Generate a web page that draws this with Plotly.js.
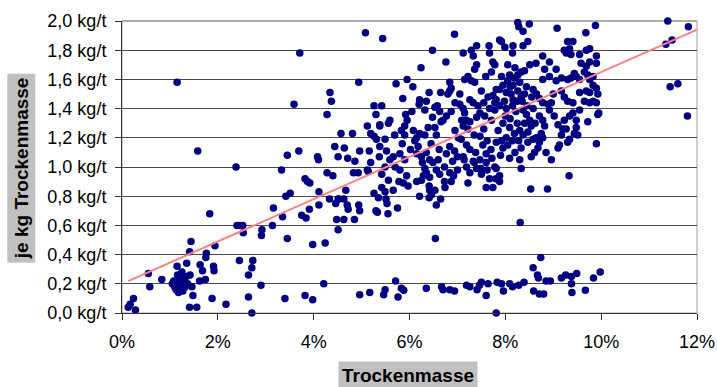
<!DOCTYPE html>
<html><head><meta charset="utf-8">
<script src="https://cdn.plot.ly/plotly-3.0.1.min.js"></script>
<style>body{margin:0;background:#fff}#chart{width:717px;height:387px}</style>
</head><body><div id="chart"></div>
<script>
// Trockenmasse (%) , je kg Trockenmasse (kg/t)
const lowLeft = [[0.13,0.04],[0.17,0.06],[0.24,0.10],[0.28,0.02],[0.55,0.27],[0.58,0.18],[0.83,0.23],
[1.05,0.20],[1.08,0.22],[1.10,0.18],[1.12,0.21],[1.13,0.16],[1.15,0.19],[1.17,0.23],[1.18,0.14],[1.20,0.20],
[1.22,0.17],[1.24,0.22],[1.25,0.19],[1.27,0.15],[1.28,0.24],[1.30,0.21],[1.32,0.18],[1.34,0.25],[1.37,0.20],
[1.16,0.26],[1.22,0.25],[1.15,0.32],[1.25,0.28],[1.35,0.34],[1.44,0.49],[1.41,0.42],[1.42,0.26],[1.46,0.18],
[1.48,0.12],[1.41,0.04],[1.56,0.04],[1.63,0.33],[1.68,0.29],[1.62,0.22],[1.76,0.41],[1.74,0.23],[1.83,0.68],
[1.88,0.10],[1.91,0.32],[1.92,0.29],[1.94,0.46],[2.17,0.06],[2.40,0.60],[2.45,0.36],[1.75,0.38],[2.38,1.00],
[1.58,1.11],[1.15,1.58],[2.46,0.60],[2.52,0.60],[2.53,0.55],[2.73,0.36],[2.71,0.31],[2.64,0.26],[2.64,0.11],
[2.71,0.00],[2.90,0.19],[2.92,0.57],[2.91,0.53],[3.16,0.72],[3.14,0.60],[3.35,0.66],[3.45,0.51],[3.40,0.10],
[3.82,0.12],[3.33,0.98],[3.45,1.08],[3.69,1.11],[3.42,0.80],[3.51,0.82],[3.82,0.92],[3.87,0.90],[3.92,0.89],
[3.75,0.67],[3.84,0.65],[3.91,0.71],[3.71,1.78],[3.59,1.43]];
const midLeft = [[4.34,1.51],[4.37,1.45],[4.28,1.36],[5.26,1.42],[5.42,1.42],[5.30,1.36],[5.38,1.29],[5.12,1.28],
[5.19,1.23],[5.26,1.21],[5.31,1.19],[4.57,1.23],[4.81,1.23],[4.44,1.14],[4.64,1.13],[4.96,1.11],[5.16,1.11],
[4.08,1.07],[4.10,1.05],[4.51,1.07],[4.71,1.06],[4.86,1.04],[5.37,1.07],[5.19,1.03],[4.28,0.96],[4.40,0.94],
[4.83,0.96],[4.93,0.96],[5.12,0.98],[5.14,0.97],[4.11,0.83],[4.33,0.78],[4.67,0.84],[4.51,0.78],[4.63,0.78],
[4.46,0.75],[4.70,0.74],[4.72,0.71],[4.94,0.74],[4.96,0.70],[4.11,0.74],[4.48,0.64],[4.63,0.64],[4.85,0.64],
[3.98,0.47],[4.24,0.48],[4.51,0.57],[5.26,0.82],[5.35,0.79],[5.30,0.70],[5.42,0.86],[5.51,0.78],[5.53,0.75],
[5.33,0.69],[5.55,0.68],[5.75,0.72],[6.21,0.80],[6.41,0.79],[6.46,0.81],[6.56,0.74],[6.65,0.78],[4.53,0.78],
[5.08,1.92],[4.94,1.58],[6.54,0.51],[8.31,0.62]];
const lowBand = [[3.98,0.09],[4.21,0.20],[4.96,0.125],[5.17,0.14],[5.46,0.125],[5.49,0.16],[5.71,0.22],[5.76,0.11],
[5.83,0.17],[5.88,0.155],[6.35,0.17],[6.67,0.18],[6.70,0.16],[6.84,0.16],[6.94,0.15],[7.19,0.19],[7.26,0.18],
[7.41,0.16],[7.46,0.19],[7.50,0.21],[7.64,0.20],[7.60,0.12],[7.83,0.21],[7.81,0.00],[7.92,0.20],[7.96,0.15],
[8.09,0.20],[8.15,0.18],[8.28,0.19],[8.39,0.21],[8.74,0.38],[8.58,0.31],[8.67,0.26],[8.69,0.24],[8.85,0.22],
[8.94,0.22],[9.17,0.24],[9.26,0.26],[9.38,0.25],[9.49,0.27],[9.84,0.24],[9.98,0.28],[9.38,0.20],[9.39,0.14],
[9.67,0.155],[8.59,0.15],[8.71,0.13],[8.80,0.13]];
const center = [[5.44,1.88],[6.94,1.91],[6.48,1.80],[6.24,1.68],[6.76,1.72],[7.12,1.78],[7.29,1.80],[7.40,1.83],
[7.33,1.76],[7.40,1.70],[7.36,1.67],[7.66,1.83],[7.67,1.78],[7.74,1.72],[7.78,1.70],[7.71,1.65],[7.88,1.87],
[7.22,1.62],[7.15,1.60],[7.29,1.59],[7.36,1.58],[7.59,1.62],[6.84,1.58],[6.87,1.54],[6.84,1.52],[6.65,1.51],
[6.80,1.50],[6.41,1.51],[6.07,1.55],[5.95,1.60],[5.72,1.57],[5.86,1.47],[6.21,1.46],[6.20,1.43],[6.35,1.45],
[6.32,1.39],[6.53,1.41],[6.58,1.42],[6.63,1.38],[6.77,1.35],[6.87,1.38],[6.70,1.32],[5.59,1.32],[5.56,1.30],
[5.92,1.36],[5.95,1.32],[5.90,1.28],[5.69,1.22],[5.83,1.25],[5.90,1.22],[5.85,1.16],[6.08,1.25],[6.15,1.20],
[6.21,1.23],[6.32,1.22],[6.39,1.27],[6.53,1.27],[6.56,1.22],[6.66,1.31],[7.05,1.43],[7.12,1.40],[7.15,1.37],
[7.09,1.32],[7.19,1.32],[7.26,1.31],[7.12,1.28],[7.22,1.26],[7.26,1.46],[7.33,1.44],[7.43,1.42],[7.47,1.37],
[7.40,1.34],[7.64,1.48],[7.74,1.49],[7.78,1.44],[7.67,1.40],[7.57,1.35],[7.71,1.32],[7.81,1.53],[5.38,1.28],
[5.49,1.19],[5.38,1.14],[5.52,1.11],[5.66,1.07],[5.59,1.05],[5.49,1.00],[5.70,1.00],[5.42,0.95],[5.56,0.91],
[5.66,0.84],[5.49,0.83],[5.80,1.09],[5.90,1.05],[5.80,0.98],[5.94,0.94],[5.87,0.89],[5.97,0.87],[6.11,1.18],
[6.18,1.14],[6.15,1.09],[6.25,1.07],[6.35,1.10],[6.42,1.05],[6.27,1.03],[6.32,0.99],[6.35,0.96],[6.29,0.94],
[6.42,0.93],[6.25,0.91],[6.41,0.87],[6.42,0.84],[6.56,0.98],[6.63,0.95],[6.73,1.00],[6.84,0.96],[6.84,1.14],
[6.94,1.11],[7.00,1.07],[6.77,1.09],[7.08,1.19],[7.19,1.15],[7.26,1.12],[7.12,1.07],[7.33,1.04],[7.19,1.00],
[7.40,0.99],[7.26,0.96],[7.47,1.21],[7.53,1.15],[7.60,1.09],[7.47,1.05],[7.60,1.03],[7.50,0.95],[7.67,0.92],
[7.74,0.86],[6.73,0.90],[6.87,0.90],[7.22,0.89],[7.60,0.86],[7.78,1.00],[6.15,0.90],[6.53,0.84],[6.74,0.86],
[6.92,0.94],[7.00,0.98],[7.14,1.05],[7.35,1.03],[7.49,0.99],[7.62,0.98],[7.72,1.06],[6.49,1.03],[5.78,0.90],
[6.02,1.12],[6.45,1.16],[6.62,1.12],[6.95,1.25],[7.02,1.20],[7.35,1.22],[7.55,1.26],[7.62,1.18],[7.05,1.50],
[7.50,1.52],[7.55,1.44],[6.95,1.44],[6.48,1.34],[6.05,1.38],[7.38,1.10],[7.70,1.12],[6.90,1.04],[6.60,1.05]];
const rightCloud = [[8.26,1.99],[8.28,1.96],[8.50,1.98],[8.37,1.93],[9.08,1.95],[9.88,1.97],[9.68,1.92],[7.92,1.86],
[7.99,1.82],[8.16,1.83],[8.15,1.78],[8.37,1.83],[8.47,1.86],[9.30,1.86],[9.41,1.86],[9.23,1.80],[9.34,1.81],
[9.27,1.78],[9.37,1.77],[9.55,1.77],[9.69,1.80],[9.76,1.81],[9.90,1.76],[9.58,1.71],[9.69,1.69],[9.76,1.72],
[9.90,1.71],[8.78,1.76],[8.92,1.72],[9.06,1.67],[8.51,1.70],[8.40,1.66],[8.33,1.65],[8.26,1.63],[8.64,1.71],
[8.82,1.67],[8.92,1.62],[8.78,1.60],[8.09,1.63],[8.19,1.61],[8.05,1.59],[8.16,1.56],[7.95,1.56],[7.88,1.53],
[8.02,1.51],[8.12,1.50],[8.26,1.52],[8.33,1.48],[8.16,1.46],[7.98,1.45],[7.81,1.46],[7.88,1.42],[8.02,1.40],
[7.78,1.39],[8.44,1.55],[8.58,1.53],[8.65,1.50],[8.71,1.47],[8.78,1.44],[8.89,1.43],[8.96,1.44],[8.92,1.39],
[9.06,1.59],[9.17,1.61],[9.30,1.60],[9.37,1.61],[9.44,1.64],[9.48,1.62],[9.55,1.60],[9.65,1.65],[9.72,1.63],
[9.76,1.60],[9.83,1.62],[9.83,1.56],[9.90,1.54],[9.17,1.52],[9.23,1.48],[9.30,1.45],[9.41,1.44],[9.55,1.51],
[9.69,1.52],[9.76,1.51],[9.65,1.45],[9.76,1.44],[9.83,1.45],[9.90,1.44],[9.93,1.50],[9.55,1.39],[9.41,1.37],
[9.48,1.32],[9.34,1.35],[9.23,1.32],[9.72,1.31],[9.93,1.36],[9.10,1.29],[9.17,1.22],[9.20,1.26],[9.27,1.26],
[9.34,1.19],[9.30,1.17],[9.48,1.27],[9.51,1.22],[9.44,1.23],[9.13,1.15],[9.10,1.13],[9.90,1.16],[8.37,1.39],
[8.44,1.36],[8.51,1.32],[8.40,1.30],[8.54,1.28],[8.47,1.24],[8.37,1.22],[8.58,1.19],[8.47,1.17],[8.71,1.35],
[8.78,1.32],[8.82,1.28],[8.75,1.23],[8.65,1.20],[8.78,1.20],[8.71,1.17],[8.68,1.13],[8.61,1.10],[8.54,1.07],
[8.96,1.05],[8.33,1.13],[8.09,1.27],[8.19,1.23],[8.02,1.20],[7.92,1.18],[7.81,1.17],[7.95,1.13],[8.09,1.06],
[7.81,0.99],[7.88,0.94],[8.33,0.99],[9.33,0.94],[8.53,0.85],[8.88,0.85],[7.80,0.92],[7.88,0.90],[8.00,1.35],
[8.10,1.33],[8.22,1.38],[8.25,1.30],[8.15,1.42],[7.95,1.30],[8.30,1.25],[8.05,1.15],[8.20,1.10],[7.90,1.08],
[8.28,1.18],[8.35,1.45],[8.45,1.42],[8.58,1.40],[8.62,1.30],[8.55,1.48],[9.95,1.37],[8.05,1.70],[8.20,1.68],
[8.10,1.55],[8.25,1.45],[7.92,1.62],[8.30,1.58],[8.40,1.50],[7.85,1.25],[8.15,1.18],[8.30,1.05],[8.85,1.10],
[9.02,1.35],[9.00,1.50]];
const farRight = [[11.39,2.00],[11.82,1.96],[11.35,1.84],[11.48,1.87],[11.44,1.55],[11.60,1.57],[11.80,1.35]];

const trendIntercept = 0.2, trendSlope = 0.145, trendXEnd = 12;

const pts = [].concat(lowLeft, midLeft, lowBand, center, rightCloud, farRight);
const xs = pts.map(p => p[0]);
const ys = pts.map(p => p[1]);
const xStart = Math.min(...xs);
const trendX = [xStart, trendXEnd];
const trendY = trendX.map(v => trendIntercept + trendSlope * v);

const font = 'Liberation Sans, Arial, sans-serif';
const data = [
  {type:'scatter', mode:'markers', x:xs, y:ys, cliponaxis:false, hoverinfo:'skip',
   marker:{color:'#000080', size:7.5, line:{width:0}}},
  {type:'scatter', mode:'lines', x:trendX, y:trendY, hoverinfo:'skip',
   line:{color:'#ff8080', width:2}}
];
const layout = {
  width:717, height:387,
  margin:{l:122, r:20, t:21, b:74, pad:0},
  separators:',.',
  paper_bgcolor:'#ffffff', plot_bgcolor:'#ffffff',
  showlegend:false,
  font:{family:font, color:'#000'},
  xaxis:{range:[0,12], tick0:0, dtick:2, ticksuffix:'%', showgrid:false, zeroline:false,
    showline:true, linecolor:'#333', linewidth:1, ticks:'outside', ticklen:6, tickcolor:'#333',
    tickfont:{size:18, family:font, color:'#000'}, ticklabelstandoff:6},
  yaxis:{range:[0,2], tick0:0, dtick:0.2, tickformat:'.1f', ticksuffix:' kg/t', showgrid:true,
    gridcolor:'#4a4a4a', gridwidth:1, zeroline:false, showline:true, linecolor:'#333', linewidth:1,
    ticks:'outside', ticklen:6, tickcolor:'#333', tickfont:{size:18, family:font, color:'#000'},
    ticklabelstandoff:5},
  shapes:[
    {type:'rect', xref:'paper', yref:'paper', x0:0, x1:1, y0:0, y1:1,
     line:{color:'#a0a0a0', width:1}, layer:'below'},
    {type:'line', xref:'paper', yref:'paper', x0:0, x1:1, y0:1, y1:1,
     line:{color:'#a0a0a0', width:1.5}, layer:'between'}
  ],
  annotations:[
    {text:'<b>je kg Trockenmasse</b>', xref:'paper', yref:'paper', x:-0.1748, y:0.4976,
     xanchor:'center', yanchor:'middle', textangle:-90, showarrow:false, bgcolor:'#c0c0c0',
     borderpad:3, font:{size:19, family:font, color:'#000'}},
    {text:'<b>Trockenmasse</b>', xref:'paper', yref:'paper', x:0.497, y:-0.215,
     xanchor:'center', yanchor:'middle', showarrow:false, bgcolor:'#c0c0c0',
     borderpad:3, font:{size:19, family:font, color:'#000'}}
  ]
};
Plotly.newPlot('chart', data, layout, {staticPlot:true, displayModeBar:false});
</script>
</body></html>
